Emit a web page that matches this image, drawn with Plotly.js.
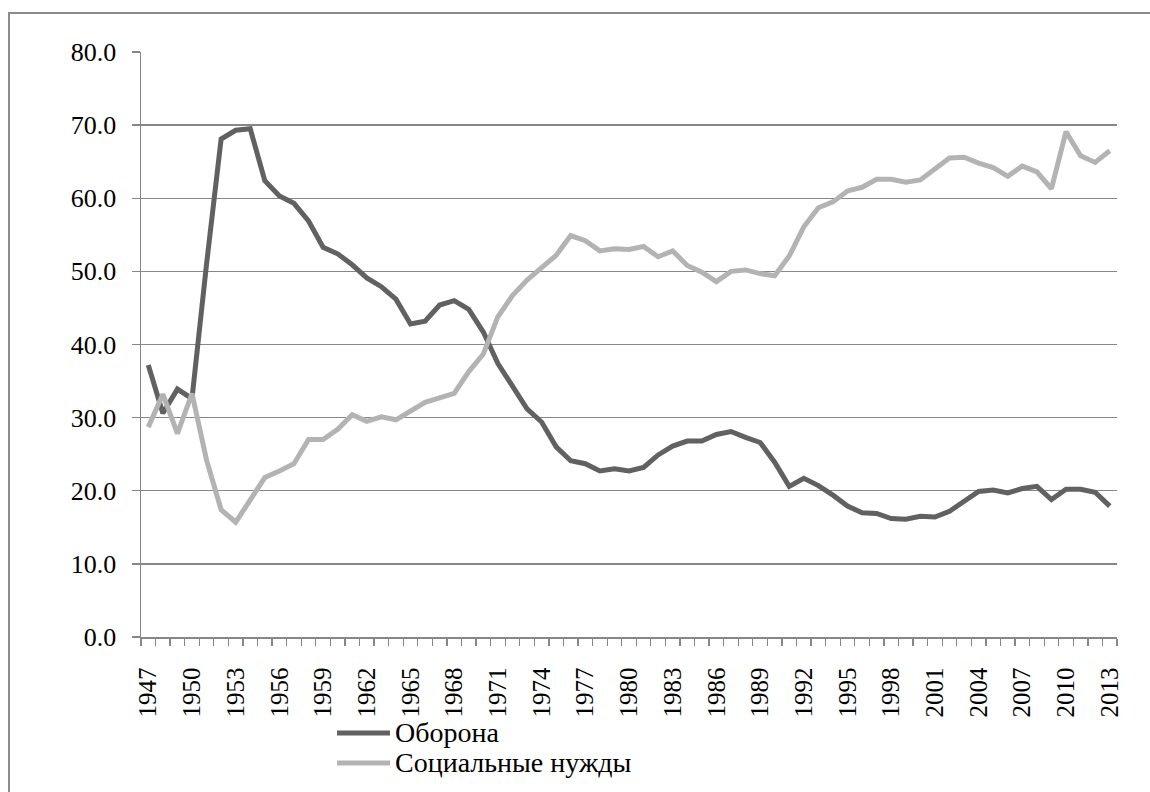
<!DOCTYPE html>
<html>
<head>
<meta charset="utf-8">
<script src="https://cdn.plot.ly/plotly-3.0.1.min.js"></script>
<style>
  html, body { margin: 0; padding: 0; background: #ffffff; }
  #chart { width: 1150px; height: 792px; }
</style>
</head>
<body>
<div id="chart"></div>
<script>
const years = [1947,1948,1949,1950,1951,1952,1953,1954,1955,1956,
  1957,1958,1959,1960,1961,1962,1963,1964,1965,1966,
  1967,1968,1969,1970,1971,1972,1973,1974,1975,1976,
  1977,1978,1979,1980,1981,1982,1983,1984,1985,1986,
  1987,1988,1989,1990,1991,1992,1993,1994,1995,1996,
  1997,1998,1999,2000,2001,2002,2003,2004,2005,2006,
  2007,2008,2009,2010,2011,2012,2013];

const defense = [37.2,30.6,33.9,32.6,51.0,68.1,69.3,69.5,62.4,60.3,
  59.3,56.9,53.3,52.4,50.9,49.1,47.9,46.2,42.8,43.2,
  45.4,46.0,44.8,41.7,37.4,34.2,31.2,29.4,26.0,24.1,
  23.7,22.7,23.0,22.7,23.2,24.9,26.1,26.8,26.8,27.7,
  28.1,27.3,26.6,23.9,20.6,21.7,20.7,19.4,17.9,17.0,
  16.9,16.2,16.1,16.5,16.4,17.2,18.6,19.9,20.1,19.7,
  20.3,20.6,18.8,20.2,20.2,19.8,17.9];

const social = [28.7,33.2,27.8,33.3,24.2,17.4,15.7,18.7,21.8,22.7,
  23.7,27.0,27.0,28.4,30.4,29.5,30.1,29.7,30.9,32.1,
  32.7,33.3,36.3,38.7,43.8,46.7,48.8,50.6,52.2,54.9,
  54.2,52.8,53.1,53.0,53.4,52.0,52.8,50.8,49.9,48.6,
  50.0,50.2,49.7,49.4,52.1,56.1,58.7,59.5,61.0,61.5,
  62.6,62.6,62.2,62.5,64.1,65.5,65.6,64.8,64.2,63.0,
  64.4,63.6,61.3,69.1,65.8,64.9,66.5];

const labelYears = [1947,1950,1953,1956,1959,1962,1965,1968,1971,1974,1977,1980,
  1983,1986,1989,1992,1995,1998,2001,2004,2007,2010,2013];

const seriesNames = ['Оборона', 'Социальные нужды'];
const seriesColors = ['#616161', '#b3b3b3'];

const FONT = 'Liberation Serif';
const GRID = '#878787';

// plot area in pixels: left 141, right 1117, top 52, bottom 637
const PL = 141, PW = 976, PB = 637, PH = 585;
const px = v => (v - PL) / PW;
const py = v => (PB - v) / PH;

const traces = [
  { x: years, y: defense, name: seriesNames[0], type: 'scatter', mode: 'lines',
    line: { color: seriesColors[0], width: 5 } },
  { x: years, y: social, name: seriesNames[1], type: 'scatter', mode: 'lines',
    line: { color: seriesColors[1], width: 5 } }
];

// legend drawn as shapes + text annotations
const legendRows = [733, 763];
const legendShapes = seriesNames.map((n, i) => ({
  type: 'line', xref: 'paper', yref: 'paper',
  x0: px(337), x1: px(390), y0: py(legendRows[i]), y1: py(legendRows[i]),
  line: { color: seriesColors[i], width: 5 }
}));
const legendTexts = seriesNames.map((n, i) => ({
  xref: 'paper', yref: 'paper', x: px(393), y: py(legendRows[i] - 1),
  xanchor: 'left', yanchor: 'middle', showarrow: false, text: n,
  font: { family: FONT, size: 28, color: '#000000' }
}));

const layout = {
  width: 1150, height: 792,
  margin: { l: 141, r: 33, t: 52, b: 155 },
  paper_bgcolor: '#ffffff', plot_bgcolor: '#ffffff',
  font: { family: FONT, color: '#000000', size: 24 },
  showlegend: false,
  xaxis: {
    type: 'linear',
    range: [1946.5, 2013.5],
    tickmode: 'array', tickvals: labelYears, ticktext: labelYears.map(String),
    tickangle: -90,
    ticks: '', ticklabelstandoff: 19,
    tickfont: { family: FONT, size: 25, color: '#000000' },
    showgrid: false, zeroline: false,
    showline: true, linecolor: GRID, linewidth: 1.5,
    minor: { tick0: 1946.5, dtick: 1, ticks: 'outside', ticklen: 7, tickwidth: 1.3, tickcolor: GRID, showgrid: false },
    fixedrange: true
  },
  yaxis: {
    range: [0, 80], dtick: 10, tick0: 0, tickformat: '.1f',
    ticks: 'outside', ticklen: 8, tickwidth: 1.3, tickcolor: GRID,
    ticklabelstandoff: 10,
    tickfont: { family: FONT, size: 26, color: '#000000' },
    showgrid: true, gridcolor: GRID, gridwidth: 1.3,
    zeroline: false,
    showline: true, linecolor: GRID, linewidth: 1.5,
    fixedrange: true
  },
  shapes: [
    { type: 'rect', xref: 'paper', yref: 'paper',
      x0: px(9), x1: px(1250), y0: py(900), y1: py(13),
      line: { color: '#8c8c8c', width: 2 }, fillcolor: 'rgba(0,0,0,0)', layer: 'below' }
  ].concat(legendShapes),
  annotations: legendTexts
};

Plotly.newPlot('chart', traces, layout, { displayModeBar: false, staticPlot: true });
</script>
</body>
</html>
